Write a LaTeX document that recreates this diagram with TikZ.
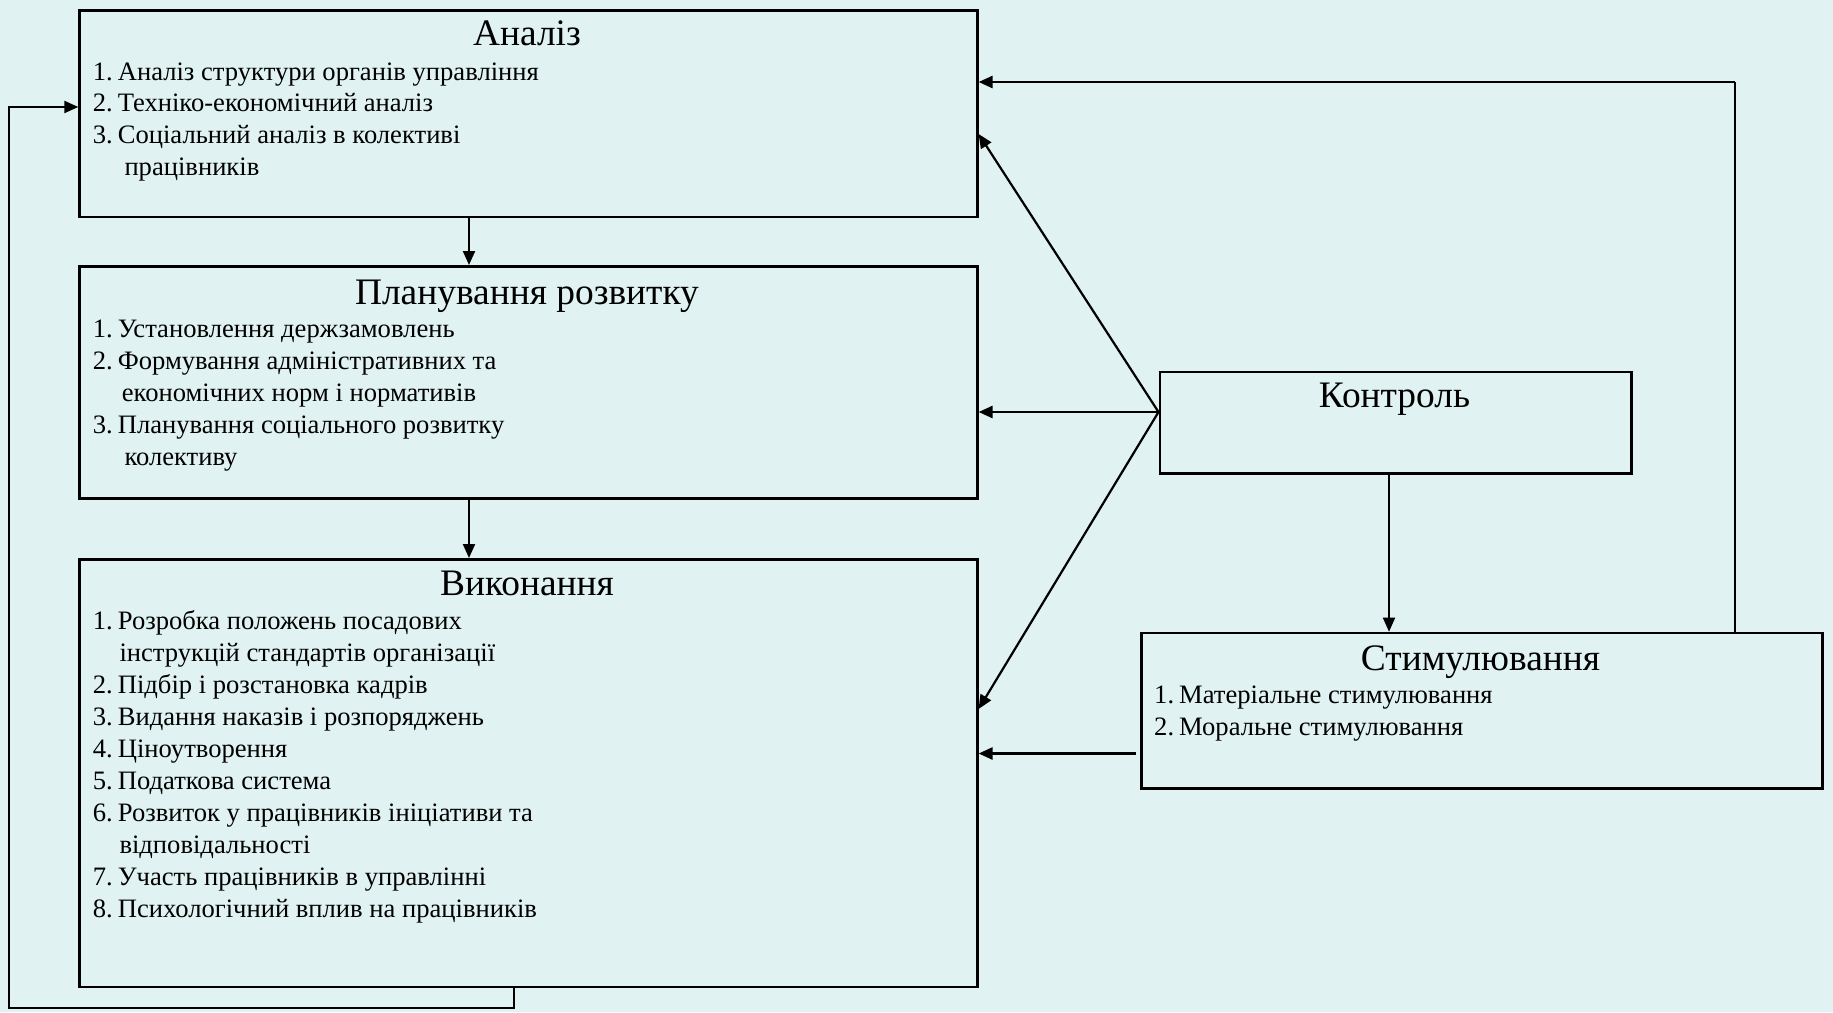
\documentclass[tikz,border=0pt]{standalone}
\usepackage{fontspec}
\setmainfont{Liberation Serif}
\usetikzlibrary{arrows.meta,calc}
\definecolor{bg}{RGB}{224,242,241}
\newcommand\nm[1]{#1.\hspace{5pt}}
\begin{document}
\begin{tikzpicture}[x=1pt,y=-1pt,
  box/.style={draw, line width=2.6pt, fill=bg, inner sep=0pt, anchor=north west},
  ttl/.style={font=\fontsize{37.4}{41}\selectfont, anchor=base, inner sep=0pt},
  itm/.style={font=\fontsize{26.6}{31}\selectfont, anchor=base west, inner sep=0pt},
  tip/.style={-{Triangle[length=14pt,width=12pt]}},
  arr/.style={tip, line width=2.6pt},
  arrm/.style={tip, line width=2.2pt},
  arrs/.style={tip, line width=1.7pt}]
\useasboundingbox (0,0) rectangle (1833,1012);
\fill[bg] (0,0) rectangle (1833,1012);

% boxes
\node[box, minimum width=897.7pt, minimum height=206.1pt] (an) at (78.3,9.4) {};
\node[box, minimum width=897.7pt, minimum height=232pt] (pl) at (78.3,265) {};
\node[box, minimum width=897.7pt, minimum height=427.5pt] (ex) at (78.3,558) {};
\node[box, minimum width=471.5pt, minimum height=101.7pt] (ct) at (1158.5,370.6) {};
\node[box, minimum width=681pt, minimum height=155.3pt] (st) at (1140,631.7) {};

% titles
\node[ttl] (ant) at (527,45.5) {Аналіз};
\node[ttl] (plt) at (527,304) {Планування розвитку};
\node[ttl] (ext) at (527,595.5) {Виконання};
\node[ttl] (ctt) at (1394.5,407) {Контроль};
\node[ttl] (stt) at (1480.5,670.5) {Стимулювання};

% analysis items
\node[itm] (a1) at (92.7,80) {\nm1Аналіз структури органів управління};
\node[itm] (a2) at (92.7,111.9) {\nm2Техніко-економічний аналіз};
\node[itm] (a3) at (92.7,143.8) {\nm3Соціальний аналіз в колективі};
\node[itm] (a4) at (124.3,175.7) {працівників};

% planning items
\node[itm] (p1) at (92.7,337.5) {\nm1Установлення держзамовлень};
\node[itm] (p2) at (92.7,369.6) {\nm2Формування адміністративних та};
\node[itm] (p3) at (121.7,401.7) {економічних норм і нормативів};
\node[itm] (p4) at (92.7,433.8) {\nm3Планування соціального розвитку};
\node[itm] (p5) at (124.3,465.9) {колективу};

% execution items
\node[itm] (e1) at (92.7,629) {\nm1Розробка положень посадових};
\node[itm] (e2) at (119.3,661.1) {інструкцій стандартів організації};
\node[itm] (e3) at (92.7,693.2) {\nm2Підбір і розстановка кадрів};
\node[itm] (e4) at (92.7,725.3) {\nm3Видання наказів і розпоряджень};
\node[itm] (e5) at (92.7,757.4) {\nm4Ціноутворення};
\node[itm] (e6) at (92.7,789.5) {\nm5Податкова система};
\node[itm] (e7) at (92.7,821.6) {\nm6Розвиток у працівників ініціативи та};
\node[itm] (e8) at (119.3,853.7) {відповідальності};
\node[itm] (e9) at (92.7,885.8) {\nm7Участь працівників в управлінні};
\node[itm] (e10) at (92.7,917.9) {\nm8Психологічний вплив на працівників};

% stimulation items
\node[itm] (s1) at (1154,703) {\nm1Матеріальне стимулювання};
\node[itm] (s2) at (1154,735.1) {\nm2Моральне стимулювання};

% helper coordinates
\coordinate (dx) at (469,0);
\coordinate (fb1) at (514,1008);
\coordinate (fb2) at (9,1008);
\coordinate (fb3) at (9,107);
\coordinate (cy) at (0,412);
\coordinate (cw) at (ct.west |- cy);
\coordinate (ay) at (0,134);
\coordinate (ey) at (0,709);
\coordinate (cs) at (1389,0);
\coordinate (sy) at (0,753.5);
\coordinate (tx) at (1735,82);

% connectors
\draw[arrm] (an.south -| dx) -- (pl.north -| dx);
\draw[arrm] (pl.south -| dx) -- (ex.north -| dx);
\draw[arrm] (ex.south -| fb1) -- (fb1) -- (fb2) -- (fb3) -- (an.west |- fb3);
\draw[arr] (cw) -- (pl.east |- cw);
\draw[arrm] (cw) -- (an.east |- ay);
\draw[arrm] (cw) -- (ex.east |- ey);
\draw[arrs] (ct.south -| cs) -- (st.north -| cs);
\draw[arr] ($(st.west |- sy)+(-4,0)$) -- (ex.east |- sy);
\draw[line width=1.5pt] (st.north -| tx) -- (tx);
\draw[arr] (tx) -- (an.east |- tx);
\end{tikzpicture}
\end{document}
